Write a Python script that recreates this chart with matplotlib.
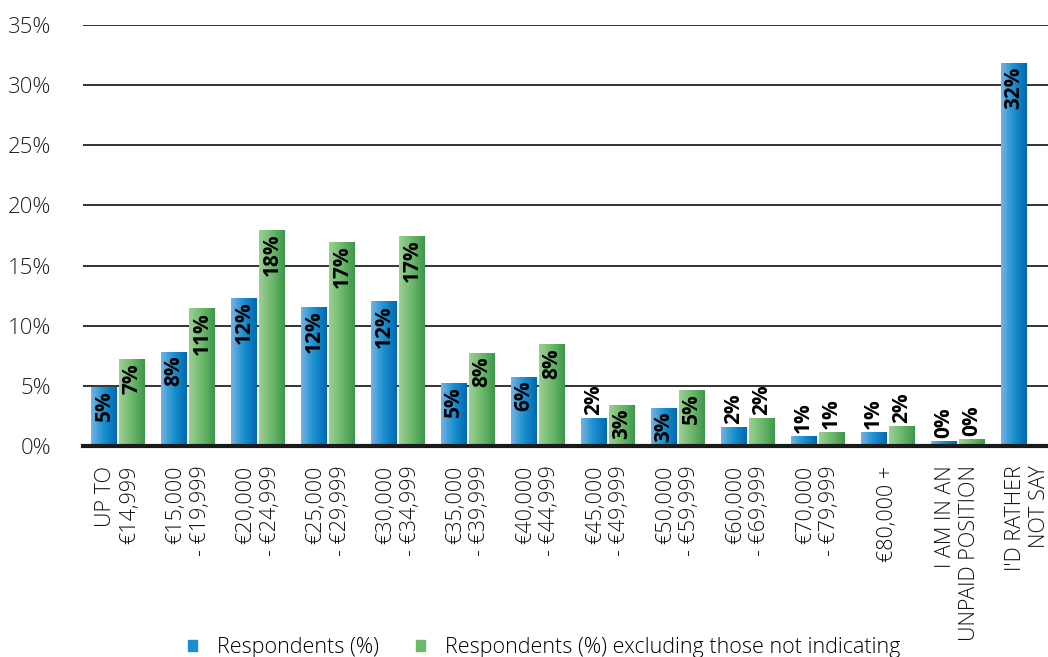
import numpy as np
import matplotlib.pyplot as plt
from matplotlib.colors import LinearSegmentedColormap

plt.rcParams['font.family'] = ['Open Sans', 'DejaVu Sans']

# valores
categorias = ['UP TO\n€14,999', '€15,000\n- €19,999', '€20,000\n- €24,999', '€25,000\n- €29,999',
              '€30,000\n- €34,999', '€35,000\n- €39,999', '€40,000\n- €44,999', '€45,000\n- €49,999',
              '€50,000\n- €59,999', '€60,000\n- €69,999', '€70,000\n- €79,999', '€80,000 +',
              'I AM IN AN\nUNPAID POSITION', "I'D RATHER\nNOT SAY"]
respondentes = [4.9, 7.8, 12.3, 11.55, 11.97, 5.2, 5.7, 2.3, 3.15, 1.5, 0.75, 1.1, 0.35, 31.75]
excluindo = [7.15, 11.4, 17.95, 16.9, 17.45, 7.7, 8.4, 3.4, 4.65, 2.25, 1.1, 1.6, 0.5, None]

azul = LinearSegmentedColormap.from_list('azul', ['#74b3e2', '#1a8fd0', '#0069b0'])
verde = LinearSegmentedColormap.from_list('verde', ['#9ccf95', '#6db86c', '#3d974a'])

fig = plt.figure(figsize=(10.48, 6.57), dpi=100)
ax = fig.add_axes([0.0792, 0.321, 0.9208, 0.641])

largura = 0.37
desloc = 0.2
grad = np.linspace(0, 1, 64).reshape(1, -1)


def barra(x, h, cmap):
    ax.imshow(grad, extent=[x - largura / 2, x + largura / 2, 0, h], aspect='auto',
              cmap=cmap, zorder=3, interpolation='bilinear')
    texto = f'{round(h)}%'
    if h >= 3:
        ax.text(x, h - 0.25, texto, rotation=90, ha='center', va='top',
                fontsize=15, fontweight='bold', zorder=4)
    else:
        ax.text(x, h + 0.3, texto, rotation=90, ha='center', va='bottom',
                fontsize=15, fontweight='bold', zorder=4)


for i, (a, b) in enumerate(zip(respondentes, excluindo)):
    barra(i - desloc, a, azul)
    if b is not None:
        barra(i + desloc, b, verde)

ax.set_xlim(-0.5, 13.29)
ax.set_ylim(0, 35)
ax.set_yticks(range(0, 36, 5))
ax.set_yticklabels([f'{v}%' for v in range(0, 36, 5)], fontsize=16, fontweight='light', color='#222222')
ax.yaxis.grid(True, color='#333333', linewidth=1.4, zorder=0)
ax.tick_params(axis='y', length=0, pad=23)
ax.set_xticks(range(len(categorias)))
ax.set_xticklabels(categorias, rotation=90, fontsize=15.5, fontweight='light',
                   multialignment='right', color='#111111')
ax.tick_params(axis='x', length=0, pad=14)
for s in ['top', 'right', 'left']:
    ax.spines[s].set_visible(False)
ax.spines['bottom'].set_linewidth(3)
ax.spines['bottom'].set_color('#1a1a1a')
ax.spines['bottom'].set_zorder(5)

h1 = plt.Rectangle((0, 0), 1, 1, color='#1a8fd0')
h2 = plt.Rectangle((0, 0), 1, 1, color='#6db86c')
fig.legend([h1, h2], ['Respondents (%)', 'Respondents (%) excluding those not indicating'],
           loc='center', bbox_to_anchor=(0.519, 0.014), ncol=2, frameon=False,
           prop={'size': 15.5, 'weight': 'light'}, handlelength=0.42, handleheight=0.42,
           handletextpad=0.93, columnspacing=1.72)

fig.savefig('out.png', dpi=100)
